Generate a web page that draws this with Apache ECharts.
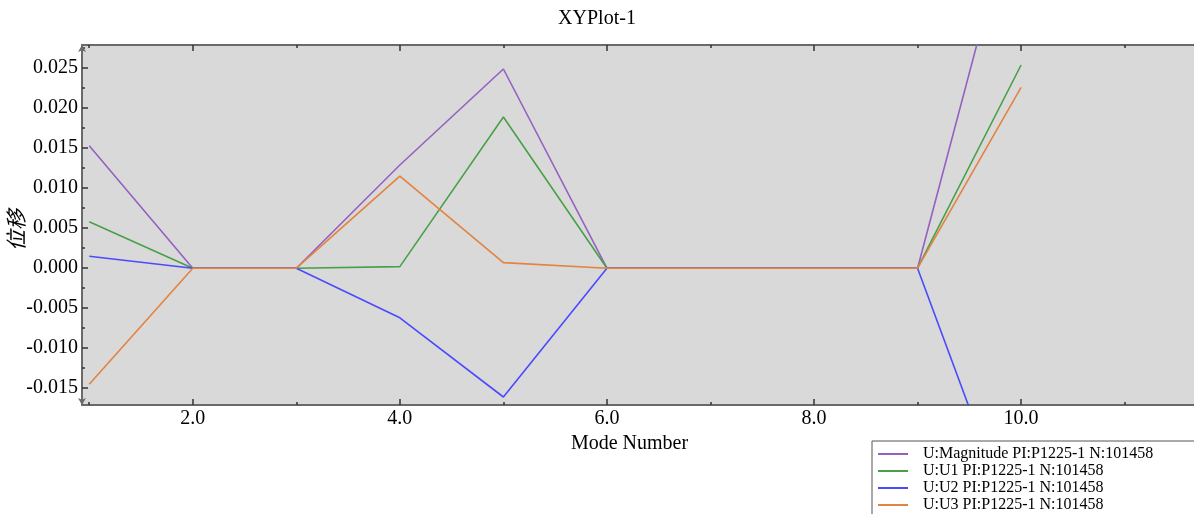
<!DOCTYPE html>
<html>
<head>
<meta charset="utf-8">
<script src="https://cdn.jsdelivr.net/npm/echarts@6/dist/echarts.min.js"></script>
<style>
html,body{margin:0;padding:0;background:#fff;}
#c{width:1194px;height:514px;}
</style>
</head>
<body>
<div id="c"></div>
<script>
const modes = [1, 2, 3, 4, 5, 6, 7, 8, 9, 10];
const magnitude = [0.0153, 0, 0, 0.0129, 0.0249, 0, 0, 0, 0, 0.0488];
const u1 = [0.0058, 0, 0, 0.0002, 0.0189, 0, 0, 0, 0, 0.0254];
const u2 = [0.0015, 0, 0, -0.0062, -0.0161, 0, 0, 0, 0, -0.0349];
const u3 = [-0.0145, 0, 0, 0.0115, 0.0007, 0, 0, 0, 0, 0.0226];
const seriesNames = [
  'U:Magnitude PI:P1225-1 N:101458',
  'U:U1 PI:P1225-1 N:101458',
  'U:U2 PI:P1225-1 N:101458',
  'U:U3 PI:P1225-1 N:101458'
];
const colors = ['#9461c2', '#48a048', '#4a4aff', '#e4823f'];
const xMajor = [2, 4, 6, 8, 10];
const xMinor = [1, 3, 5, 7, 9, 11];
const yMajor = [-0.015, -0.010, -0.005, 0.000, 0.005, 0.010, 0.015, 0.020, 0.025];
const yMinor = [-0.0175, -0.0125, -0.0075, -0.0025, 0.0025, 0.0075, 0.0125, 0.0175, 0.0225, 0.0275];
const X_MIN = 0.93, X_MAX = 11.67, Y_MIN = -0.0171, Y_MAX = 0.0279;

const serif = '"Liberation Serif","DejaVu Serif",serif';
const axisColor = '#6a6a6a';

function pair(arr) { return modes.map((m, i) => [m, arr[i]]); }
const values = [magnitude, u1, u2, u3];

function xAx(pos, ticks, len, showLine, showLabels) {
  const a = {
    type: 'value', position: pos, min: X_MIN, max: X_MAX,
    splitLine: { show: false },
    axisLine: { show: showLine, onZero: false, lineStyle: { color: axisColor, width: 2 } },
    axisTick: { show: true, inside: true, length: len, customValues: ticks, lineStyle: { color: '#333', width: 1.5 } },
    axisLabel: { show: showLabels }
  };
  if (showLabels) {
    a.axisLabel = {
      show: true, customValues: ticks, formatter: v => v.toFixed(1),
      color: '#000', fontFamily: serif, fontSize: 20, margin: 4
    };
    a.name = 'Mode Number';
    a.nameLocation = 'middle';
    a.nameGap = 27;
    a.nameTextStyle = { color: '#000', fontFamily: serif, fontSize: 20, padding: [0, 17, 0, 0] };
  }
  return a;
}
function yAx(ticks, len, showLine, showLabels) {
  const a = {
    type: 'value', position: 'left', min: Y_MIN, max: Y_MAX,
    splitLine: { show: false },
    axisLine: { show: showLine, onZero: false, lineStyle: { color: axisColor, width: 2 },
      symbol: showLine ? ['arrow', 'arrow'] : 'none', symbolSize: [6, 7] },
    axisTick: { show: true, inside: true, length: len, customValues: ticks, lineStyle: { color: '#333', width: 1.5 } },
    axisLabel: { show: false }
  };
  if (showLabels) {
    a.axisLabel = {
      show: true, customValues: ticks, formatter: v => v.toFixed(3),
      color: '#000', fontFamily: serif, fontSize: 20, margin: 4
    };
    a.name = '位移';
    a.nameLocation = 'middle';
    a.nameGap = 55;
    a.nameMoveOverlap = false;
    a.nameTextStyle = { color: '#000', fontFamily: '"Noto Sans CJK SC",sans-serif', fontSize: 21,
      fontStyle: 'italic', padding: [0, 10, 0, 0] };
  }
  return a;
}

const chart = echarts.init(document.getElementById('c'), null, { renderer: 'canvas' });
chart.setOption({
  animation: false,
  backgroundColor: '#ffffff',
  title: {
    text: 'XYPlot-1', left: 'center', top: 4,
    textStyle: { color: '#000', fontFamily: serif, fontSize: 20, fontWeight: 'normal' }
  },
  grid: {
    left: 82, right: 0, top: 45, bottom: 109,
    outerBoundsMode: 'none', containLabel: false,
    show: true, backgroundColor: '#d9d9d9', borderWidth: 0
  },
  legend: {
    orient: 'vertical', left: 872, top: 441, height: 120,
    backgroundColor: '#ffffff', borderColor: '#555', borderWidth: 1,
    padding: [5, 60, 10, 5],
    itemWidth: 30, itemHeight: 14, itemGap: 1,
    itemStyle: { opacity: 0 },
    textStyle: { color: '#000', fontFamily: serif, fontSize: 16, padding: [0, 0, 0, 10] },
    data: seriesNames
  },
  xAxis: [
    xAx('bottom', xMajor, 6, true, true),
    xAx('bottom', xMinor, 3, false, false),
    xAx('top', xMajor, 6, true, false),
    xAx('top', xMinor, 3, false, false)
  ],
  yAxis: [
    yAx(yMajor, 6, true, true),
    yAx(yMinor, 3, false, false)
  ],
  series: seriesNames.map((n, i) => ({
    name: n, type: 'line', xAxisIndex: 0, yAxisIndex: 0,
    data: pair(values[i]), symbol: 'none', clip: true,
    lineStyle: { color: colors[i], width: 1.6 }, itemStyle: { color: colors[i] }
  }))
});
</script>
</body>
</html>
